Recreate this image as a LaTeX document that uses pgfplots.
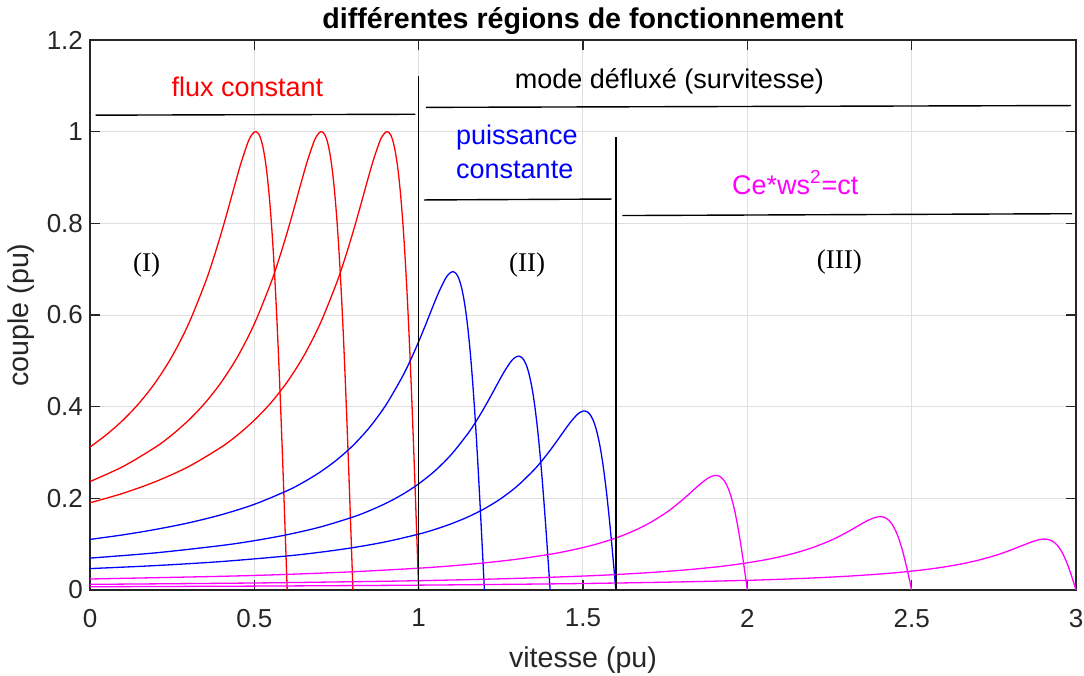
\documentclass[border=0pt]{standalone}
\usepackage{fontspec}
\setmainfont{Liberation Sans}[Ligatures=CommonOff]
\newfontfamily\timesfont{Liberation Serif}
\usepackage{pgfplots}
\pgfplotsset{compat=1.18}
\definecolor{axgray}{RGB}{38,38,38}
\definecolor{gridgray}{RGB}{223,223,223}
\definecolor{cred}{RGB}{255,0,0}
\definecolor{cblue}{RGB}{0,0,255}
\definecolor{cmag}{RGB}{255,0,255}
\begin{document}
\begin{tikzpicture}
\begin{axis}[
  width=493pt, height=275pt, scale only axis,
  xmin=0, xmax=3, ymin=0, ymax=1.2,
  xtick={0,0.5,1,1.5,2,2.5,3},
  ytick={0,0.2,0.4,0.6,0.8,1,1.2},
  /pgf/number format/assume math mode=true,
  grid=major,
  major grid style={gridgray, line width=0.5pt},
  axis line style={axgray, line width=0.6pt},
  tick style={axgray, line width=0.6pt},
  major tick length=5pt,
  tick align=inside,
  xtick pos=both, ytick pos=both,
  xticklabel pos=bottom, yticklabel pos=left,
  tick label style={font=\fontsize{13}{15}\selectfont, text=axgray},
  xticklabel style={yshift=-6pt},
  xlabel={vitesse (pu)},
  ylabel={couple (pu)},
  xlabel style={font=\fontsize{14.3}{17}\selectfont, text=axgray, at={(axis description cs:0.5,-0.1418)}, anchor=base},
  ylabel style={font=\fontsize{14.3}{17}\selectfont, text=axgray, at={(axis description cs:-0.0624,0.5)}, anchor=base},
  title={différentes régions de fonctionnement},
  every axis title shift=0pt,
  title style={font=\bfseries\fontsize{14.3}{17}\selectfont, at={(axis description cs:0.5,1.0207)}, anchor=base, yshift=0pt},
  clip=false,
  every axis plot/.append style={line width=0.65pt, smooth, tension=0.5},
]
\coordinate (SW) at (rel axis cs:0,0);
% region I : red
\addplot[cred] coordinates {(0,0.3120)(0.05,0.3388)(0.1,0.3704)(0.15,0.4081)(0.2,0.4539)(0.25,0.5102)(0.3,0.5806)(0.35,0.6693)(0.375,0.7219)(0.4,0.7802)(0.42,0.8304)(0.44,0.8824)(0.46,0.9328)(0.48,0.9756)(0.49,0.9908)(0.5,0.9992)(0.505,1.0)(0.51,0.9979)(0.515,0.9927)(0.52,0.9836)(0.525,0.9703)(0.53,0.9521)(0.535,0.9285)(0.54,0.8989)(0.545,0.8627)(0.55,0.8194)(0.555,0.7686)(0.56,0.7101)(0.565,0.6436)(0.57,0.5694)(0.575,0.4878)(0.58,0.3993)(0.585,0.3050)(0.59,0.2061)(0.595,0.1039)(0.6,0)};
\addplot[cred] coordinates {(0,0.2366)(0.1,0.2692)(0.2,0.3120)(0.25,0.3388)(0.3,0.3704)(0.35,0.4081)(0.4,0.4539)(0.45,0.5102)(0.5,0.5806)(0.55,0.6693)(0.575,0.7219)(0.6,0.7802)(0.62,0.8304)(0.64,0.8824)(0.66,0.9328)(0.68,0.9756)(0.69,0.9908)(0.7,0.9992)(0.705,1.0)(0.71,0.9979)(0.715,0.9927)(0.72,0.9836)(0.725,0.9703)(0.73,0.9521)(0.735,0.9285)(0.74,0.8989)(0.745,0.8627)(0.75,0.8194)(0.755,0.7686)(0.76,0.7101)(0.765,0.6436)(0.77,0.5694)(0.775,0.4878)(0.78,0.3993)(0.785,0.3050)(0.79,0.2061)(0.795,0.1039)(0.8,0)};
\addplot[cred] coordinates {(0,0.1903)(0.1,0.2109)(0.2,0.2366)(0.3,0.2692)(0.4,0.3120)(0.45,0.3388)(0.5,0.3704)(0.55,0.4081)(0.6,0.4539)(0.65,0.5102)(0.7,0.5806)(0.75,0.6693)(0.775,0.7219)(0.8,0.7802)(0.82,0.8304)(0.84,0.8824)(0.86,0.9328)(0.88,0.9756)(0.89,0.9908)(0.9,0.9992)(0.905,1.0)(0.91,0.9979)(0.915,0.9927)(0.92,0.9836)(0.925,0.9703)(0.93,0.9521)(0.935,0.9285)(0.94,0.8989)(0.945,0.8627)(0.95,0.8194)(0.955,0.7686)(0.96,0.7101)(0.965,0.6436)(0.97,0.5694)(0.975,0.4878)(0.98,0.3993)(0.985,0.3050)(0.99,0.2061)(0.995,0.1039)(1.0,0)};
% region II : blue
\addplot[cblue] coordinates {(0,0.1104)(0.1,0.1203)(0.2,0.1322)(0.3,0.1465)(0.4,0.1643)(0.5,0.1869)(0.6,0.2167)(0.65,0.2353)(0.7,0.2572)(0.75,0.2834)(0.8,0.3152)(0.85,0.3543)(0.9,0.4032)(0.95,0.4648)(0.975,0.5013)(1.0,0.5418)(1.02,0.5767)(1.04,0.6128)(1.06,0.6478)(1.08,0.6775)(1.09,0.6881)(1.1,0.6939)(1.105,0.6944)(1.11,0.6930)(1.115,0.6894)(1.12,0.6831)(1.125,0.6738)(1.13,0.6612)(1.135,0.6448)(1.14,0.6242)(1.145,0.5991)(1.15,0.5690)(1.155,0.5338)(1.16,0.4931)(1.165,0.4469)(1.17,0.3954)(1.175,0.3388)(1.18,0.2773)(1.185,0.2118)(1.19,0.1431)(1.195,0.0722)(1.2,0)};
\addplot[cblue] coordinates {(0,0.0696)(0.2,0.0811)(0.4,0.0971)(0.5,0.1076)(0.6,0.1207)(0.7,0.1373)(0.8,0.1592)(0.85,0.1729)(0.9,0.1890)(0.95,0.2082)(1.0,0.2316)(1.05,0.2603)(1.1,0.2962)(1.15,0.3415)(1.175,0.3683)(1.2,0.3981)(1.22,0.4237)(1.24,0.4502)(1.26,0.4759)(1.28,0.4978)(1.29,0.5055)(1.3,0.5098)(1.305,0.5102)(1.31,0.5091)(1.315,0.5065)(1.32,0.5018)(1.325,0.4951)(1.33,0.4858)(1.335,0.4737)(1.34,0.4586)(1.345,0.4402)(1.35,0.4181)(1.355,0.3921)(1.36,0.3623)(1.365,0.3284)(1.37,0.2905)(1.375,0.2489)(1.38,0.2037)(1.385,0.1556)(1.39,0.1052)(1.395,0.0530)(1.4,0)};
\addplot[cblue] coordinates {(0,0.0467)(0.2,0.0533)(0.4,0.0621)(0.6,0.0743)(0.7,0.0824)(0.8,0.0924)(0.9,0.1052)(1.0,0.1219)(1.05,0.1323)(1.1,0.1447)(1.15,0.1594)(1.2,0.1773)(1.25,0.1993)(1.3,0.2268)(1.35,0.2614)(1.375,0.2820)(1.4,0.3048)(1.42,0.3244)(1.44,0.3447)(1.46,0.3644)(1.48,0.3811)(1.49,0.3870)(1.5,0.3903)(1.505,0.3906)(1.51,0.3898)(1.515,0.3878)(1.52,0.3842)(1.525,0.3790)(1.53,0.3719)(1.535,0.3627)(1.54,0.3511)(1.545,0.3370)(1.55,0.3201)(1.555,0.3002)(1.56,0.2774)(1.565,0.2514)(1.57,0.2224)(1.575,0.1905)(1.58,0.1560)(1.585,0.1191)(1.59,0.0805)(1.595,0.0406)(1.6,0)};
% region III : magenta
\addplot[cmag] coordinates {(0,0.0240)(0.4,0.0299)(0.6,0.0341)(0.8,0.0398)(1.0,0.0476)(1.1,0.0527)(1.2,0.0592)(1.3,0.0673)(1.4,0.0780)(1.45,0.0847)(1.5,0.0926)(1.55,0.1020)(1.6,0.1135)(1.65,0.1276)(1.7,0.1452)(1.75,0.1673)(1.775,0.1805)(1.8,0.1951)(1.82,0.2076)(1.84,0.2206)(1.86,0.2332)(1.88,0.2439)(1.89,0.2477)(1.9,0.2498)(1.905,0.2500)(1.91,0.2495)(1.915,0.2482)(1.92,0.2459)(1.925,0.2426)(1.93,0.2380)(1.935,0.2321)(1.94,0.2247)(1.945,0.2157)(1.95,0.2049)(1.955,0.1922)(1.96,0.1775)(1.965,0.1609)(1.97,0.1424)(1.975,0.1220)(1.98,0.0998)(1.985,0.0763)(1.99,0.0515)(1.995,0.0260)(2.0,0)};
\addplot[cmag] coordinates {(0,0.0123)(0.5,0.0153)(0.9,0.0191)(1.1,0.0218)(1.3,0.0254)(1.5,0.0304)(1.6,0.0337)(1.7,0.0379)(1.8,0.0431)(1.9,0.0499)(1.95,0.0542)(2.0,0.0593)(2.05,0.0653)(2.1,0.0726)(2.15,0.0816)(2.2,0.0929)(2.25,0.1071)(2.275,0.1155)(2.3,0.1248)(2.32,0.1329)(2.34,0.1412)(2.36,0.1492)(2.38,0.1561)(2.39,0.1585)(2.4,0.1599)(2.405,0.1600)(2.41,0.1597)(2.415,0.1588)(2.42,0.1574)(2.425,0.1552)(2.43,0.1523)(2.435,0.1486)(2.44,0.1438)(2.445,0.1380)(2.45,0.1311)(2.455,0.1230)(2.46,0.1136)(2.465,0.1030)(2.47,0.0911)(2.475,0.0780)(2.48,0.0639)(2.485,0.0488)(2.49,0.0330)(2.495,0.0166)(2.5,0)};
\addplot[cmag] coordinates {(0,0.0071)(0.5,0.0085)(1.0,0.0106)(1.4,0.0133)(1.6,0.0152)(1.8,0.0177)(2.0,0.0211)(2.1,0.0234)(2.2,0.0263)(2.3,0.0299)(2.4,0.0347)(2.45,0.0376)(2.5,0.0412)(2.55,0.0453)(2.6,0.0504)(2.65,0.0567)(2.7,0.0645)(2.75,0.0744)(2.775,0.0802)(2.8,0.0867)(2.82,0.0923)(2.84,0.0980)(2.86,0.1036)(2.88,0.1084)(2.89,0.1101)(2.9,0.1110)(2.905,0.1111)(2.91,0.1109)(2.915,0.1103)(2.92,0.1093)(2.925,0.1078)(2.93,0.1058)(2.935,0.1032)(2.94,0.0999)(2.945,0.0959)(2.95,0.0910)(2.955,0.0854)(2.96,0.0789)(2.965,0.0715)(2.97,0.0633)(2.975,0.0542)(2.98,0.0444)(2.985,0.0339)(2.99,0.0229)(2.995,0.0115)(3.0,0)};
% region boundary lines
\addplot[black, line width=0.7pt, sharp plot] coordinates {(0.017,1.036)(0.99,1.038)};
\addplot[black, line width=0.7pt, sharp plot] coordinates {(1,0)(1,1.121)};
\addplot[black, line width=0.7pt, sharp plot] coordinates {(1.022,1.053)(2.985,1.057)};
\addplot[black, line width=0.7pt, sharp plot] coordinates {(1.016,0.851)(1.587,0.853)};
\addplot[black, line width=0.7pt, sharp plot] coordinates {(1.6,0)(1.6,0.989)};
\addplot[black, line width=0.7pt, sharp plot] coordinates {(1.62,0.817)(2.988,0.821)};
% texts
\node[anchor=base, text=cred, font=\fontsize{13.5}{16}\selectfont] at (axis cs:0.479,1.0764) {flux constant};
\node[anchor=base, text=black, font=\fontsize{13.5}{16}\selectfont] at (axis cs:1.763,1.094) {mode défluxé (survitesse)};
\node[anchor=base west, inner sep=0pt, text=cblue, font=\fontsize{13.5}{16}\selectfont] at (axis cs:1.113,0.9725) {puissance};
\node[anchor=base west, inner sep=0pt, text=cblue, font=\fontsize{13.5}{16}\selectfont] at (axis cs:1.113,0.8968) {constante};
\node[anchor=base, text=cmag, font=\fontsize{13.5}{16}\selectfont] at (axis cs:2.146,0.864) {Ce*ws\textsuperscript{2}=ct};
\node[anchor=center, font=\timesfont\fontsize{13.5}{16}\selectfont] at (axis cs:0.172,0.71) {(I)};
\node[anchor=center, font=\timesfont\fontsize{13.5}{16}\selectfont] at (axis cs:1.33,0.71) {(II)};
\node[anchor=center, font=\timesfont\fontsize{13.5}{16}\selectfont] at (axis cs:2.28,0.716) {(III)};
\end{axis}
\pgfresetboundingbox
\path (SW) ++(-45pt,-43pt) rectangle ++(542pt,338pt);
\end{tikzpicture}
\end{document}
